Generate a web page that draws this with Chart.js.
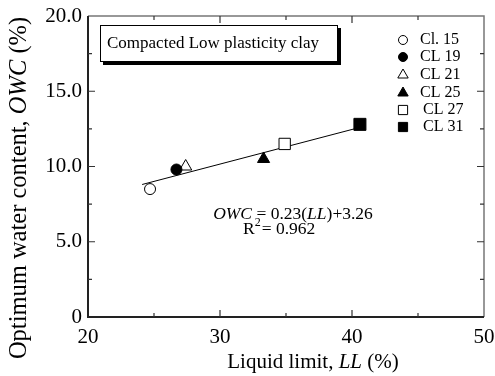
<!DOCTYPE html>
<html>
<head>
<meta charset="utf-8">
<script src="https://cdn.jsdelivr.net/npm/chart.js@4/dist/chart.umd.min.js"></script>
<style>
  html, body { margin: 0; padding: 0; background: #fff; }
  #wrap { width: 495px; height: 376px; }
</style>
</head>
<body>
<div id="wrap"><canvas id="owcChart" width="495" height="376"></canvas></div>
<script>
// --- Data ---
const soilNames = ['Cl. 15', 'CL 19', 'CL 21', 'CL 25', 'CL 27', 'CL 31'];
const liquidLimit = [24.7, 26.7, 27.4, 33.3, 34.9, 40.6];
const optimumWater = [8.5, 9.8, 10.0, 10.5, 11.5, 12.8];
const markerStyle = ['circle', 'circle', 'triangle', 'triangle', 'rect', 'rect'];
const markerFilled = [false, true, false, true, false, true];
const markerRadius = [5.5, 5.5, 7, 7, 8, 8.5];

// regression OWC = 0.23(LL) + 3.26, drawn over the LL range of the samples
const fitSlope = 0.23;
const fitIntercept = 3.26;
const fitRange = [24.1, 40.6];

const xTicks = [20, 30, 40, 50];
const yTicks = [0, 5, 10, 15, 20];

const SERIF = '"Liberation Serif", "Times New Roman", serif';

// --- Datasets ---
const pointSets = soilNames.map(function (name, i) {
    return {
        label: name,
        data: [{ x: liquidLimit[i], y: optimumWater[i] }],
        pointStyle: markerStyle[i],
        pointRadius: markerRadius[i],
        pointBackgroundColor: markerFilled[i] ? '#000' : '#fff',
        pointBorderColor: '#000',
        pointBorderWidth: 1,
        showLine: false
    };
});

const fitLine = {
    label: 'fit',
    type: 'line',
    data: fitRange.map(function (x) { return { x: x, y: fitSlope * x + fitIntercept }; }),
    borderColor: '#000',
    borderWidth: 1,
    pointRadius: 0,
    fill: false
};

// draws text made of plain / italic runs, centred on (x, y)
function drawRuns(ctx, runs, x, y, size) {
    let total = 0;
    runs.forEach(function (r) {
        ctx.font = (r.italic ? 'italic ' : '') + size + 'px ' + SERIF;
        r.w = ctx.measureText(r.text).width;
        total += r.w;
    });
    let cx = x - total / 2;
    ctx.textAlign = 'left';
    ctx.textBaseline = 'middle';
    runs.forEach(function (r) {
        ctx.font = (r.italic ? 'italic ' : '') + size + 'px ' + SERIF;
        ctx.fillText(r.text, cx, y);
        cx += r.w;
    });
}

// scales reserve no extra room for overhanging labels
function noScalePadding(s) {
    s.paddingLeft = 0; s.paddingRight = 0; s.paddingTop = 0; s.paddingBottom = 0;
}

// frame, inward ticks, titles, note box, legend and equation
const decorations = {
    id: 'decorations',
    afterDraw: function (chart) {
        const ctx = chart.ctx;
        const a = chart.chartArea;
        const xs = chart.scales.x;
        const ys = chart.scales.y;
        ctx.save();

        // frame
        ctx.strokeStyle = '#777';
        ctx.lineWidth = 1.5;
        ctx.beginPath();
        ctx.moveTo(a.left, a.top); ctx.lineTo(a.right, a.top); ctx.lineTo(a.right, a.bottom);
        ctx.stroke();
        ctx.strokeStyle = '#222';
        ctx.lineWidth = 2;
        ctx.beginPath();
        ctx.moveTo(a.left, a.top); ctx.lineTo(a.left, a.bottom); ctx.lineTo(a.right, a.bottom);
        ctx.stroke();

        // inward ticks: major every 10 / 5, minor halfway
        ctx.strokeStyle = '#333';
        ctx.lineWidth = 1.2;
        ctx.beginPath();
        for (let v = 25; v < 50; v += 5) {
            const len = v % 10 === 0 ? 7 : 4;
            const px = xs.getPixelForValue(v);
            ctx.moveTo(px, a.bottom); ctx.lineTo(px, a.bottom - len);
            ctx.moveTo(px, a.top); ctx.lineTo(px, a.top + len);
        }
        for (let v = 2.5; v < 20; v += 2.5) {
            const len = v % 5 === 0 ? 7 : 4;
            const py = ys.getPixelForValue(v);
            ctx.moveTo(a.left, py); ctx.lineTo(a.left + len, py);
            ctx.moveTo(a.right, py); ctx.lineTo(a.right - len, py);
        }
        ctx.stroke();

        ctx.fillStyle = '#000';

        // axis titles
        drawRuns(ctx, [{ text: 'Liquid limit, ' }, { text: 'LL', italic: true }, { text: ' (%)' }], 313, 362, 21);
        ctx.save();
        ctx.translate(20, 188);
        ctx.rotate(-Math.PI / 2);
        drawRuns(ctx, [{ text: 'Optimum water content, ' }, { text: 'OWC', italic: true }, { text: ' (%)' }], 0, 0, 24.5);
        ctx.restore();

        // note box with shadow
        ctx.fillStyle = '#000';
        ctx.fillRect(103, 28, 238, 37);
        ctx.fillStyle = '#fff';
        ctx.fillRect(100, 25, 238, 37);
        ctx.strokeStyle = '#000';
        ctx.lineWidth = 1;
        ctx.strokeRect(100.5, 25.5, 237, 36);
        ctx.fillStyle = '#000';
        ctx.font = '17px ' + SERIF;
        ctx.textAlign = 'left';
        ctx.textBaseline = 'middle';
        ctx.fillText('Compacted Low plasticity clay', 107, 44);

        // legend
        const rowY = [40, 57, 75, 93, 110, 127];
        pointSets.forEach(function (ds, i) {
            const r = ds.pointStyle === 'circle' ? 4.5 : (ds.pointStyle === 'triangle' ? 6 : 6.5);
            ctx.fillStyle = ds.pointBackgroundColor;
            ctx.strokeStyle = '#000';
            ctx.lineWidth = 1;
            Chart.helpers.drawPoint(ctx, { pointStyle: ds.pointStyle, radius: r, borderWidth: 1, rotation: 0 }, 403, rowY[i]);
            ctx.fillStyle = '#000';
            ctx.font = '16px ' + SERIF;
            ctx.textAlign = 'left';
            ctx.textBaseline = 'middle';
            ctx.fillText(ds.label, i >= 4 ? 423 : 420, rowY[i]);
        });

        // regression equation
        drawRuns(ctx, [{ text: 'OWC', italic: true }, { text: ' = 0.23(' }, { text: 'LL', italic: true }, { text: ')+3.26' }], 293, 214, 17.5);
        ctx.font = '17.5px ' + SERIF;
        ctx.textAlign = 'left';
        ctx.fillText('R', 243, 229);
        const rw = ctx.measureText('R').width;
        ctx.font = '12px ' + SERIF;
        ctx.fillText('2', 243 + rw, 223);
        ctx.font = '17.5px ' + SERIF;
        ctx.fillText('= 0.962', 243 + rw + 7, 229);

        ctx.restore();
    }
};

// --- Chart ---
const ctx = document.getElementById('owcChart').getContext('2d');
const owcChart = new Chart(ctx, {
    type: 'scatter',
    data: { datasets: pointSets.concat([fitLine]) },
    options: {
        responsive: false,
        animation: false,
        layout: { padding: { top: 16, right: 11, left: 0, bottom: 0 } },
        plugins: { legend: { display: false }, tooltip: { enabled: false } },
        scales: {
            x: {
                type: 'linear', min: 20, max: 50,
                afterBuildTicks: function (s) { s.ticks = xTicks.map(function (v) { return { value: v }; }); },
                afterFit: function (s) { s.height = 59; noScalePadding(s); },
                grid: { display: false, drawTicks: false },
                border: { display: false },
                ticks: {
                    padding: 8, color: '#000', maxRotation: 0,
                    font: { family: SERIF, size: 21 }
                }
            },
            y: {
                type: 'linear', min: 0, max: 20,
                afterBuildTicks: function (s) { s.ticks = yTicks.map(function (v) { return { value: v }; }); },
                afterFit: function (s) { s.width = 88; noScalePadding(s); },
                grid: { display: false, drawTicks: false },
                border: { display: false },
                ticks: {
                    padding: 6, color: '#000',
                    font: { family: SERIF, size: 21 },
                    callback: function (v) { return v === 0 ? '0' : v.toFixed(1); }
                }
            }
        }
    },
    plugins: [decorations]
});
</script>
</body>
</html>
